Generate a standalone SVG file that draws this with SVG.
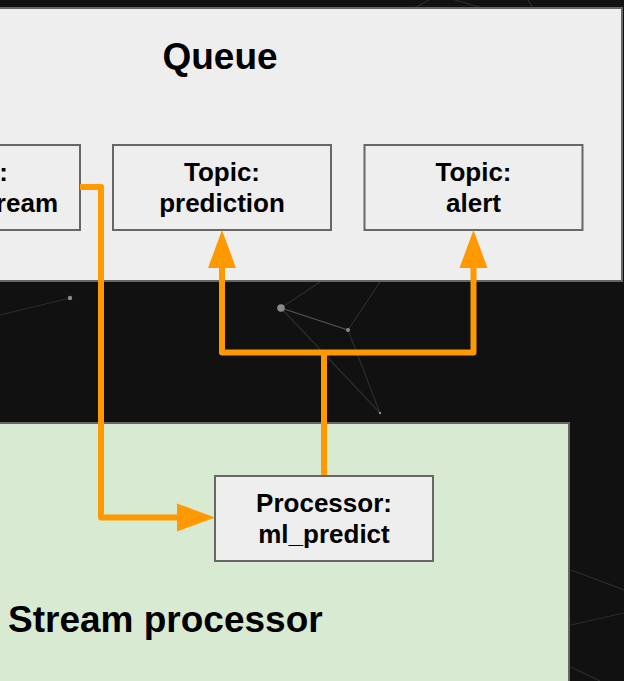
<svg xmlns="http://www.w3.org/2000/svg" width="624" height="681" viewBox="0 0 624 681">
  <defs>
    <style>
      .bg-line { stroke: #2c2c2c; stroke-width: 1.2; fill: none; }
      .bg-line-lit { stroke: #555555; stroke-width: 1.2; fill: none; }
      .bg-dot { fill: #8a8a8a; }
      .container { stroke: #666666; stroke-width: 2; }
      .queue { fill: #eeeeee; }
      .stream { fill: #d9ead3; }
      .box { fill: #eeeeee; stroke: #666666; stroke-width: 2; }
      .title { font-family: "Liberation Sans", Arial, sans-serif; font-weight: bold; font-size: 37px; fill: #000000; }
      .label { font-family: "Liberation Sans", Arial, sans-serif; font-weight: bold; font-size: 26px; fill: #000000; text-anchor: middle; }
      .flow { stroke: #ff9900; stroke-width: 6; fill: none; stroke-linejoin: round; marker-end: url(#arrow); }
      .flow-plain { stroke: #ff9900; stroke-width: 6; fill: none; stroke-linejoin: round; }
    </style>
    <marker id="arrow" markerUnits="userSpaceOnUse" markerWidth="38" markerHeight="28" refX="0" refY="14" orient="auto" overflow="visible">
      <path d="M0,0 L38,14 L0,28 Z" fill="#ff9900"/>
    </marker>
  </defs>

  <!-- dark backdrop with faint network pattern -->
  <rect x="0" y="0" width="624" height="681" fill="#111111"/>
  <g id="backdrop">
    <line class="bg-line" x1="415" y1="8" x2="432" y2="-2"/>
    <line class="bg-line" x1="455" y1="0" x2="482" y2="8"/>
    <line class="bg-line" x1="528" y1="0" x2="533" y2="8"/>
    <line class="bg-line" x1="0" y1="315" x2="70" y2="298"/>
    <line class="bg-line" x1="281" y1="308" x2="320" y2="282"/>
    <line class="bg-line" x1="348" y1="330" x2="380" y2="282"/>
    <line class="bg-line-lit" x1="281" y1="308" x2="348" y2="330"/>
    <line class="bg-line" x1="348" y1="330" x2="380" y2="413"/>
    <line class="bg-line" x1="281" y1="308" x2="380" y2="413"/>
    <line class="bg-line" x1="571" y1="570" x2="624" y2="590"/>
    <line class="bg-line" x1="571" y1="625" x2="624" y2="613"/>
    <line class="bg-line" x1="571" y1="667" x2="600" y2="681"/>
    <circle class="bg-dot" cx="70" cy="298" r="2.2"/>
    <circle class="bg-dot" cx="281" cy="308" r="3.8"/>
    <circle class="bg-dot" cx="348" cy="330" r="2"/>
    <circle class="bg-dot" cx="380" cy="413" r="1.2"/>
  </g>

  <!-- Queue container -->
  <g id="queue">
    <rect class="container queue" x="-10" y="8" width="632" height="273"/>
    <text class="title" x="220" y="69" text-anchor="middle">Queue</text>
  </g>

  <!-- Stream processor container -->
  <g id="stream-processor">
    <rect class="container stream" x="-10" y="423" width="579" height="270"/>
    <text class="title" x="8" y="632">Stream processor</text>
  </g>

  <g id="topic-stream">
    <rect class="box" x="-138" y="145" width="218" height="85"/>
    <text class="label" x="8" y="181" style="text-anchor:end">:</text>
    <text class="label" x="58" y="212" style="text-anchor:end">ream</text>
  </g>

  <g id="topic-prediction">
    <rect class="box" x="113" y="145" width="218" height="85"/>
    <text class="label" x="222" y="181">Topic:</text>
    <text class="label" x="222" y="212">prediction</text>
  </g>

  <g id="topic-alert">
    <rect class="box" x="364.5" y="145" width="218" height="85"/>
    <text class="label" x="473.5" y="181">Topic:</text>
    <text class="label" x="473.5" y="212">alert</text>
  </g>

  <g id="processor-ml-predict">
    <rect class="box" x="215" y="476" width="218" height="85"/>
    <text class="label" x="324" y="512">Processor:</text>
    <text class="label" x="324" y="543">ml_predict</text>
  </g>

  <!-- data flow between topics and processor -->
  <g id="connectors">
    <path class="flow" d="M80,187 H101 V517.5 H177"/>
    <path class="flow-plain" d="M324,475 V352.5"/>
    <path class="flow" d="M324,352.5 H222 V268"/>
    <path class="flow" d="M324,352.5 H473.5 V268"/>
  </g>
</svg>
